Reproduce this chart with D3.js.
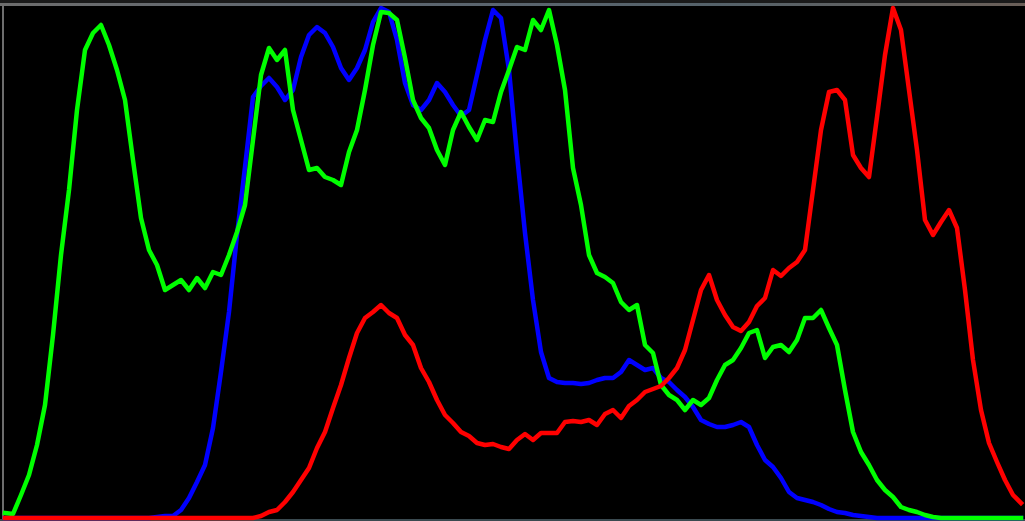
<!DOCTYPE html>
<html>
<head>
<meta charset="utf-8">
<script src="https://cdn.jsdelivr.net/npm/d3@7"></script>
<style>
html,body{margin:0;padding:0;background:#000;overflow:hidden;}
svg{display:block;}
</style>
</head>
<body>
<svg id="chart" width="1025" height="521"></svg>
<script>
// Histogram bins (pixel intensity, every second bin of 0..255)
const bins = d3.range(0, 256, 2);

// Pixel counts per bin
const blueCounts = [
  0,0,0,0,0,0,0,0,0,0,0,0,0,0,0,0,0,0,0,
  10,20,20,80,200,360,530,900,1460,2060,2830,3510,4210,4320,4400,4310,4180,4280,4610,4830,
  4910,4850,4710,4500,4380,4500,4680,4960,5100,5060,4780,4350,4130,4080,4180,4350,4260,4130,
  4020,4080,4430,4780,5080,5000,4480,3630,2850,2180,1660,1400,1360,1350,1350,1340,1350,1380,
  1400,1400,1460,1580,1530,1480,1500,1400,1360,1280,1210,1110,980,940,910,910,930,960,910,
  730,580,510,400,260,200,180,160,130,90,60,50,30,20,10,
  0,0,0,0,0,0,0,0,0,0,0,0,0,0,0,0,0,0,0
];
const greenCounts = [
  50,40,230,430,730,1130,1830,2630,3280,4080,4680,4850,4930,4730,4480,4180,3580,3000,2680,
  2530,2280,2330,2380,2280,2400,2300,2460,2430,2630,2860,3130,3780,4430,4700,4580,4680,4080,
  3780,3480,3500,3410,3380,3330,3660,3880,4280,4730,5060,5050,4980,4600,4180,4000,3900,3680,
  3530,3880,4060,3910,3780,3980,3960,4260,4480,4710,4680,4980,4880,5080,4730,4280,3500,3130,
  2630,2450,2410,2350,2160,2080,2130,1730,1650,1330,1230,1180,1080,1180,1130,1200,1380,1530,
  1580,1700,1850,1880,1600,1710,1730,1660,1780,2000,2000,2080,1900,1730,1280,860,660,530,380,
  280,210,110,80,60,30,10,
  0,0,0,0,0,0,0,0,0,0,0
];
const redCounts = [
  0,0,0,0,0,0,0,0,0,0,0,0,0,0,0,0,0,0,0,0,0,0,0,0,0,0,0,0,0,0,0,0,
  20,60,80,160,260,380,500,700,860,1100,1330,1600,1850,2000,2060,2130,2050,2000,1830,1730,
  1500,1360,1180,1030,950,860,820,750,730,740,710,690,780,840,780,850,850,850,960,970,960,
  980,930,1040,1080,1000,1120,1180,1260,1290,1320,1400,1500,1680,1980,2280,2430,2180,2030,
  1910,1870,1960,2120,2200,2480,2420,2500,2560,2680,3280,3880,4260,4280,4180,3630,3500,3410,
  4010,4630,5100,4880,4280,3680,2980,2830,2960,3080,2900,2280,1580,1080,750,560,380,230,150
];

const channels = [
  {name: "b", color: "#0000ff", values: blueCounts},
  {name: "g", color: "#00ff00", values: greenCounts},
  {name: "r", color: "#ff0000", values: redCounts}
];

const W = 1025, H = 521;
const svg = d3.select("#chart");

svg.append("rect").attr("x", 0).attr("y", 0).attr("width", W).attr("height", H).attr("fill", "#000");

// window frame edges
const grad = svg.append("defs").append("linearGradient").attr("id", "topg")
  .attr("x1", "0%").attr("x2", "100%");
grad.append("stop").attr("offset", "0%").attr("stop-color", "#6d6d6d");
grad.append("stop").attr("offset", "35%").attr("stop-color", "#5d6670");
grad.append("stop").attr("offset", "70%").attr("stop-color", "#55626a");
grad.append("stop").attr("offset", "100%").attr("stop-color", "#6a5f58");
svg.append("rect").attr("x", 0).attr("y", 0).attr("width", W).attr("height", 3).attr("fill", "#1a1a1a");
svg.append("rect").attr("x", 0).attr("y", 3).attr("width", W).attr("height", 3).attr("fill", "url(#topg)");
svg.append("rect").attr("x", 2).attr("y", 3).attr("width", 2).attr("height", H - 3).attr("fill", "#6d6d6d");
svg.append("rect").attr("x", 0).attr("y", 519).attr("width", W).attr("height", 2).attr("fill", "#3a4a50");

const x = d3.scaleLinear().domain([0, 254]).range([5, 1021]);
const y = d3.scaleLinear().domain([0, 5120]).range([518, 6]);

const line = d3.line()
  .x((d, i) => x(bins[i]))
  .y(d => y(d));

svg.selectAll("path.hist")
  .data(channels)
  .join("path")
  .attr("class", "hist")
  .attr("d", d => line(d.values))
  .attr("fill", "none")
  .attr("stroke", d => d.color)
  .attr("stroke-width", 4.5)
  .attr("stroke-linejoin", "round")
  .attr("stroke-linecap", "square");
</script>
</body>
</html>
